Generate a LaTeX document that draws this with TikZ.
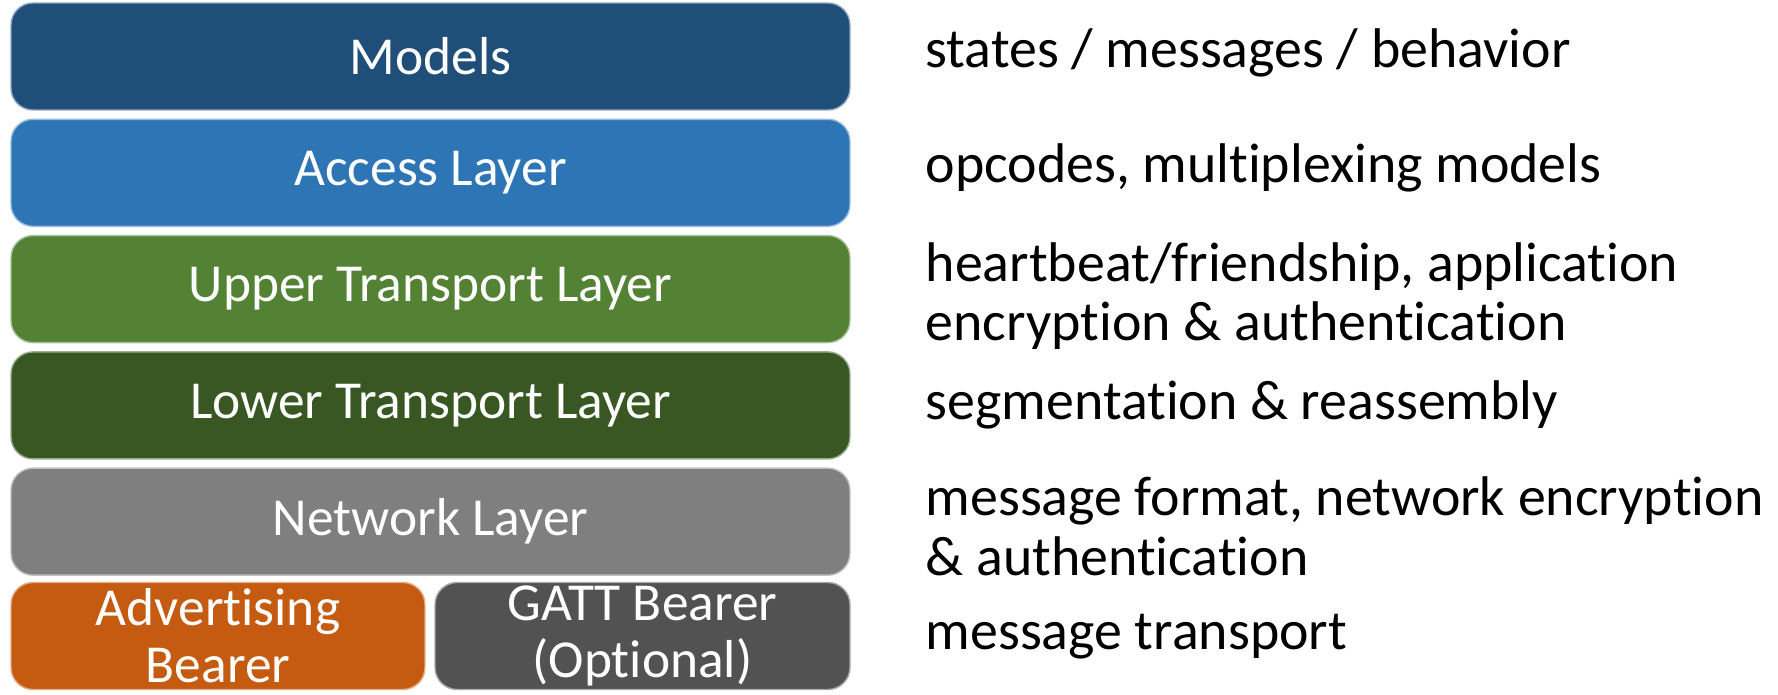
\documentclass[tikz,border=0pt]{standalone}
\usepackage{fontspec}
\setmainfont{Carlito}[Ligatures=NoCommon]
\definecolor{modelsblue}{HTML}{1F4E79}
\definecolor{accessblue}{HTML}{2E75B6}
\definecolor{uppergreen}{HTML}{548235}
\definecolor{lowergreen}{HTML}{385723}
\definecolor{netgray}{HTML}{7F7F7F}
\definecolor{advorange}{HTML}{C55A11}
\definecolor{gattgray}{HTML}{525252}
\begin{document}
\begin{tikzpicture}[x=0.1mm,y=-0.1mm]

    \tikzset{layerbox/.style={fill=#1,draw=#1!50!white,line width=0.4pt,rounded corners=2.2mm,
        text=white,minimum height=10.7mm,inner sep=0pt,align=center,
        font=\fontsize{15.2}{16.3}\selectfont}}
    \tikzset{desc/.style={anchor=west,align=left,inner sep=0pt,
        font=\fontsize{15.9}{17}\selectfont}}

    \useasboundingbox (0,0) rectangle (1778,695);

    \node[layerbox=modelsblue,minimum width=83.9mm] (models) at (430.5, 56.5) {Models};
    \node[layerbox=accessblue,minimum width=83.9mm] (access) at (430.5, 172.8) {Access Layer};
    \node[layerbox=uppergreen,minimum width=83.9mm] (upper) at (430.5, 289.1) {Upper Transport Layer};
    \node[layerbox=lowergreen,minimum width=83.9mm] (lower) at (430.5, 405.4) {Lower Transport Layer};
    \node[layerbox=netgray,minimum width=83.9mm] (network) at (430.5, 521.7) {Network Layer};
    \node[layerbox=advorange,minimum width=41.4mm] (adv) at (218, 636) {Advertising\\Bearer};
    \node[layerbox=gattgray,minimum width=41.5mm] (gatt) at (642.5, 636) {GATT Bearer\\(Optional)};

    % descriptions
    \node[desc] (dmodels) at (925, 53) {states / messages / behavior};
    \node[desc] (daccess) at (925, 168) {opcodes, multiplexing models};
    \node[desc] (dupper) at (925, 296) {heartbeat/friendship, application\\encryption \& authentication};
    \node[desc] (dlower) at (925, 405) {segmentation \& reassembly};
    \node[desc] (dnetwork) at (925, 526) {message format, network encryption\\\& authentication};
    \node[desc] (dbearer) at (925, 637) {message transport};

\end{tikzpicture}
\end{document}
